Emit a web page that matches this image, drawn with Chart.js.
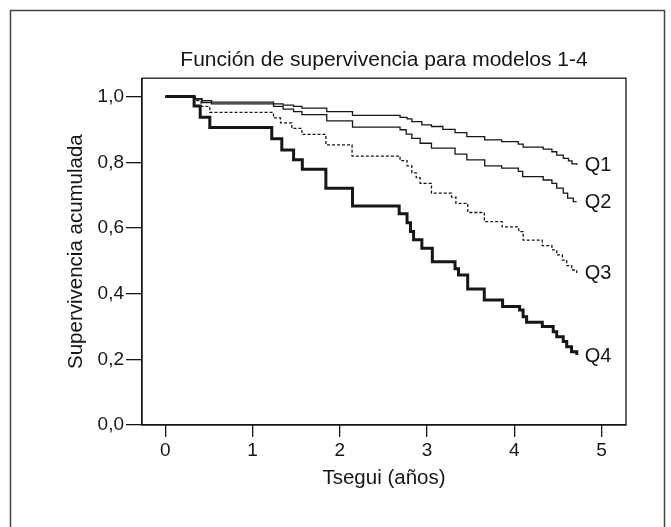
<!DOCTYPE html>
<html><head><meta charset="utf-8">
<script src="https://cdn.jsdelivr.net/npm/chart.js@4.4.1/dist/chart.umd.min.js"></script>
<style>html,body{margin:0;padding:0;background:#fff}#wrap{width:671px;height:527px;position:relative}</style>
</head><body><div id="wrap"><canvas id="c"></canvas></div>
<script>
const chartTitle = 'Función de supervivencia para modelos 1-4';
const xTitle = 'Tsegui (años)';
const yTitle = 'Supervivencia acumulada';
const seriesNames = ['Q1', 'Q2', 'Q3', 'Q4'];
const xTickValues = [0, 1, 2, 3, 4, 5];
const yTickValues = [0, 0.2, 0.4, 0.6, 0.8, 1.0];

const q1Time = [0, 0.34, 0.42, 0.53, 1.24, 1.35, 1.47, 1.565, 1.85, 2.145, 2.69, 2.77, 2.825, 2.94, 3.05, 3.18, 3.32, 3.455, 3.66, 3.855, 4.045, 4.10, 4.33, 4.43, 4.485, 4.56, 4.62, 4.66, 4.714];
const q1Surv = [1, 0.994, 0.988, 0.983, 0.978, 0.974, 0.970, 0.965, 0.954, 0.943, 0.937, 0.932, 0.924, 0.914, 0.909, 0.900, 0.890, 0.878, 0.868, 0.863, 0.855, 0.846, 0.840, 0.832, 0.822, 0.812, 0.804, 0.795, 0.792];

const q2Time = [0, 0.34, 0.42, 0.53, 1.24, 1.35, 1.47, 1.565, 1.85, 2.145, 2.69, 2.76, 2.825, 2.92, 3.05, 3.32, 3.455, 3.66, 3.855, 4.045, 4.095, 4.33, 4.43, 4.485, 4.56, 4.61, 4.675, 4.714];
const q2Surv = [1, 0.992, 0.982, 0.978, 0.970, 0.962, 0.954, 0.945, 0.926, 0.907, 0.899, 0.886, 0.873, 0.858, 0.843, 0.825, 0.807, 0.789, 0.782, 0.772, 0.756, 0.746, 0.736, 0.721, 0.706, 0.691, 0.680, 0.680];

const q3Time = [0, 0.34, 0.41, 0.51, 1.24, 1.32, 1.45, 1.565, 1.84, 2.14, 2.69, 2.77, 2.825, 2.875, 2.92, 3.05, 3.28, 3.33, 3.466, 3.656, 3.86, 4.05, 4.10, 4.32, 4.43, 4.485, 4.55, 4.60, 4.657, 4.714];
const q3Surv = [1, 0.988, 0.970, 0.952, 0.935, 0.920, 0.903, 0.885, 0.853, 0.819, 0.805, 0.789, 0.768, 0.753, 0.736, 0.706, 0.694, 0.675, 0.647, 0.619, 0.603, 0.589, 0.563, 0.546, 0.533, 0.518, 0.502, 0.485, 0.472, 0.463];

const q4Time = [0, 0.33, 0.40, 0.51, 1.22, 1.335, 1.47, 1.57, 1.84, 2.145, 2.68, 2.77, 2.81, 2.845, 2.94, 3.06, 3.32, 3.36, 3.465, 3.655, 3.865, 4.06, 4.10, 4.14, 4.32, 4.445, 4.485, 4.56, 4.60, 4.655, 4.715];
const q4Surv = [1, 0.971, 0.937, 0.906, 0.872, 0.837, 0.808, 0.779, 0.721, 0.667, 0.643, 0.616, 0.589, 0.564, 0.538, 0.497, 0.476, 0.457, 0.414, 0.381, 0.361, 0.350, 0.330, 0.313, 0.300, 0.284, 0.269, 0.254, 0.238, 0.223, 0.213];

const FONT = "'Liberation Sans', Arial, Helvetica, sans-serif";
const INK = '#161616';

function pts(t, s) { return t.map((v, i) => ({ x: v, y: s[i] })); }

const datasets = [
  { label: seriesNames[0], data: pts(q1Time, q1Surv), borderColor: INK, borderWidth: 1.3 },
  { label: seriesNames[1], data: pts(q2Time, q2Surv), borderColor: INK, borderWidth: 1.3 },
  { label: seriesNames[2], data: pts(q3Time, q3Surv), borderColor: INK, borderWidth: 1.3, borderDash: [3, 2] },
  { label: seriesNames[3], data: pts(q4Time, q4Surv), borderColor: INK, borderWidth: 3 }
].map(d => Object.assign(d, { stepped: 'before', pointRadius: 0, fill: false, tension: 0 }));

const framePlugin = {
  id: 'frame',
  beforeDraw(chart) {
    const ctx = chart.ctx;
    ctx.save();
    ctx.fillStyle = '#fff';
    ctx.fillRect(0, 0, chart.width, chart.height);
    ctx.strokeStyle = '#444';
    ctx.lineWidth = 1.5;
    ctx.beginPath();
    ctx.moveTo(10.5, 540); ctx.lineTo(10.5, 10.5); ctx.lineTo(664.5, 10.5); ctx.lineTo(664.5, 540);
    ctx.stroke();
    ctx.restore();
  },
  afterDatasetsDraw(chart) {
    const { ctx, chartArea: a } = chart;
    ctx.save();
    ctx.strokeStyle = INK;
    ctx.lineWidth = 1.3;
    ctx.strokeRect(a.left, a.top, a.right - a.left, a.bottom - a.top);
    ctx.restore();
  }
};

const endLabelPlugin = {
  id: 'endLabels',
  afterDatasetsDraw(chart) {
    const ctx = chart.ctx;
    const xs = chart.scales.x, ys = chart.scales.y;
    ctx.save();
    ctx.font = '20px ' + FONT;
    ctx.fillStyle = INK;
    ctx.textAlign = 'left';
    ctx.textBaseline = 'middle';
    chart.data.datasets.forEach(ds => {
      const last = ds.data[ds.data.length - 1];
      ctx.fillText(ds.label, xs.getPixelForValue(last.x) + 8, ys.getPixelForValue(last.y) + 1);
    });
    ctx.restore();
  }
};

new Chart(document.getElementById('c'), {
  type: 'line',
  data: { datasets },
  options: {
    responsive: true,
    maintainAspectRatio: false,
    animation: false,
    layout: { padding: { top: 0, right: 45, left: 0, bottom: 0 } },
    plugins: {
      legend: { display: false },
      tooltip: { enabled: false },
      title: {
        display: true, text: chartTitle, fullSize: false, color: INK,
        font: { family: FONT, size: 21, weight: 'normal' },
        padding: { top: 48, bottom: 5 }
      }
    },
    scales: {
      x: {
        type: 'linear', min: -0.267, max: 5.279,
        afterFit(s) { s.height = 102; },
        afterBuildTicks(s) { s.ticks = xTickValues.map(v => ({ value: v })); },
        ticks: { color: INK, font: { family: FONT, size: 19 }, padding: 2, maxRotation: 0, autoSkip: false },
        grid: { display: true, drawOnChartArea: false, drawTicks: true, tickLength: 12, color: INK, lineWidth: 1.3 },
        border: { display: true, color: INK, width: 1.3 },
        title: { display: true, text: xTitle, color: INK, font: { family: FONT, size: 20.5 }, padding: { bottom: 36, top: 0 } }
      },
      y: {
        type: 'linear', min: 0, max: 1.056,
        afterFit(s) { s.width = 142; },
        afterBuildTicks(s) { s.ticks = yTickValues.map(v => ({ value: v })); },
        ticks: { color: INK, font: { family: FONT, size: 19 }, padding: 2, autoSkip: false,
          callback: v => v.toFixed(1).replace('.', ',') },
        grid: { display: true, drawOnChartArea: false, drawTicks: true, tickLength: 16, color: INK, lineWidth: 1.3 },
        border: { display: true, color: INK, width: 1.3 },
        title: { display: true, text: yTitle, color: INK, font: { family: FONT, size: 20.5 }, padding: { top: 64, bottom: 0 } }
      }
    }
  },
  plugins: [framePlugin, endLabelPlugin]
});
</script>
</body></html>
